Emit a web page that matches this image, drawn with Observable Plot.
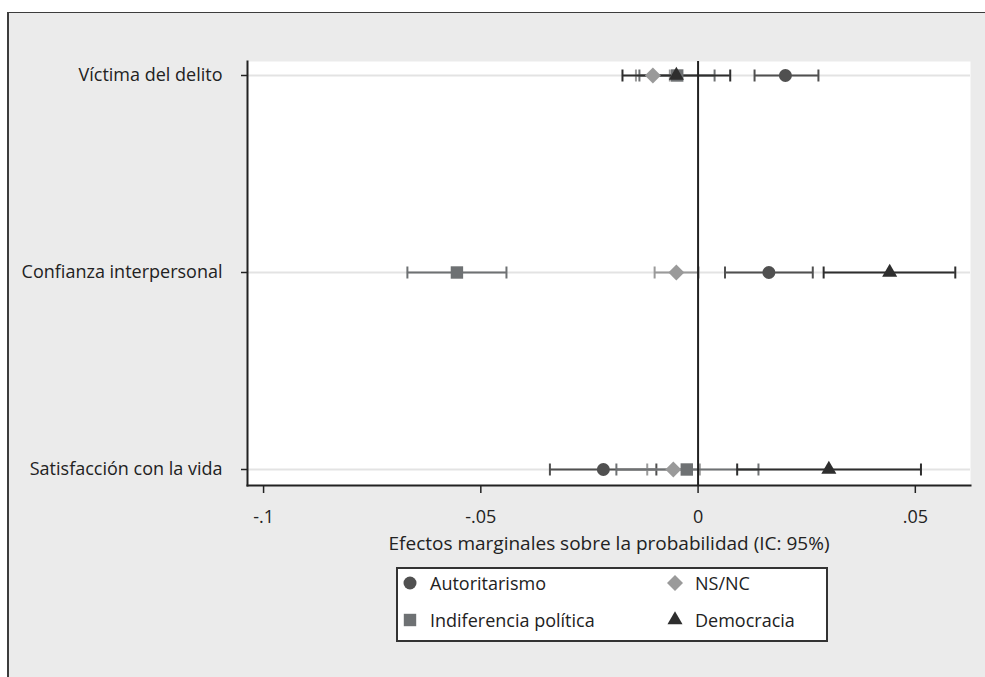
<!DOCTYPE html>
<html><head><meta charset="utf-8">
<script src="https://cdn.jsdelivr.net/npm/d3@7"></script>
<script src="https://cdn.jsdelivr.net/npm/@observablehq/plot@0.6"></script>
<style>
body{margin:0;background:#fff;font-family:"Open Sans",sans-serif;}
#page{position:relative;width:985px;height:677px;overflow:hidden;}
#bg{position:absolute;left:7px;top:12px;width:1100px;height:800px;background:#ebebeb;border-left:2px solid #3c3c3c;border-top:1px solid #3c3c3c;}
#chart{position:absolute;left:0;top:0;}
#legend{position:absolute;left:396px;top:567px;width:428px;height:71px;border:2px solid #333;background:#fff;}
.item{position:absolute;font-size:18px;color:#222;line-height:22px;white-space:nowrap;}
.mk{position:absolute;}
</style></head><body>
<div id="page"><div id="bg"></div><div id="chart"></div><div id="legend"></div></div>
<script>
// ---- data ----
const categories = ["Víctima del delito", "Confianza interpersonal", "Satisfacción con la vida"];
const seriesNames = ["Autoritarismo", "Indiferencia política", "NS/NC", "Democracia"];

const autoritarismoEst = [0.0201, 0.0163, -0.0218];
const autoritarismoLo  = [0.0130, 0.0062, -0.0341];
const autoritarismoHi  = [0.0277, 0.0264, -0.0096];

const indiferenciaEst = [-0.0048, -0.0555, -0.0026];
const indiferenciaLo  = [-0.0135, -0.0669, -0.0188];
const indiferenciaHi  = [0.0038, -0.0441, 0.0139];

const nsncEst = [-0.0104, -0.0050, -0.0057];
const nsncLo  = [-0.0143, -0.0100, -0.0117];
const nsncHi  = [-0.0065, 0.0001, 0.0004];

const democraciaEst = [-0.0050, 0.0441, 0.0301];
const democraciaLo  = [-0.0174, 0.0289, 0.0090];
const democraciaHi  = [0.0074, 0.0592, 0.0513];

const xTicks = [-0.1, -0.05, 0, 0.05];
const xTickLabels = ["-.1", "-.05", "0", ".05"];
const xLabel = "Efectos marginales sobre la probabilidad (IC: 95%)";

// ---- styling ----
const style = {
  "Autoritarismo":        {color: "#505050", symbol: "circle",   r: 6.5},
  "Indiferencia política":{color: "#6e7173", symbol: "square",   r: 7},
  "NS/NC":                {color: "#9a9a9a", symbol: "diamond2", r: 7.2},
  "Democracia":           {color: "#2e2e2e", symbol: "triangle", r: 5.6}
};
const seriesData = {
  "Autoritarismo": [autoritarismoEst, autoritarismoLo, autoritarismoHi],
  "Indiferencia política": [indiferenciaEst, indiferenciaLo, indiferenciaHi],
  "NS/NC": [nsncEst, nsncLo, nsncHi],
  "Democracia": [democraciaEst, democraciaLo, democraciaHi]
};
const drawOrder = ["Autoritarismo", "NS/NC", "Indiferencia política", "Democracia"];

function rows(name) {
  const [e, lo, hi] = seriesData[name];
  return categories.map((c, i) => ({series: name, cat: c, est: e[i], lo: lo[i], hi: hi[i]}));
}

const capSymbol = {
  draw(ctx, size) { const h = Math.sqrt(size / Math.PI); ctx.moveTo(0, -h); ctx.lineTo(0, h); }
};

const marks = [
  Plot.frame({fill: "white", stroke: null}),
  Plot.ruleY(categories, {y: d => d, stroke: "#e3e3e3", strokeWidth: 2})
];
for (const name of drawOrder) {
  const s = style[name], data = rows(name);
  marks.push(Plot.ruleY(data, {y: "cat", x1: "lo", x2: "hi", stroke: s.color, strokeWidth: 2}));
  marks.push(Plot.dot(data, {x: "lo", y: "cat", symbol: capSymbol, r: 6, fill: "none", stroke: s.color, strokeWidth: 2}));
  marks.push(Plot.dot(data, {x: "hi", y: "cat", symbol: capSymbol, r: 6, fill: "none", stroke: s.color, strokeWidth: 2}));
}
marks.push(Plot.ruleX([0], {stroke: "#222", strokeWidth: 2}));
for (const name of drawOrder) {
  const s = style[name], data = rows(name);
  marks.push(Plot.dot(data, {x: "est", y: "cat", symbol: s.symbol, r: s.r, fill: s.color, stroke: "none"}));
}
marks.push(
  Plot.axisX({ticks: xTicks, tickFormat: d => xTickLabels[xTicks.indexOf(d)], tickSize: 8, tickPadding: 17,
    fontSize: 18, label: null, color: "#222", strokeWidth: 1.5}),
  Plot.axisY({tickSize: 6, tickPadding: 19, fontSize: 18, label: null, color: "#222", strokeWidth: 1.5}),
  Plot.frame({anchor: "left", stroke: "#222", strokeWidth: 2}),
  Plot.frame({anchor: "bottom", stroke: "#222", strokeWidth: 2}),
  Plot.text([xLabel], {frameAnchor: "bottom", dy: 64, text: d => d, fontSize: 19, fill: "#222"})
);

const chart = Plot.plot({
  width: 985,
  height: 570,
  marginLeft: 247,
  marginRight: 15,
  marginTop: 61,
  marginBottom: 85,
  style: {background: "transparent", fontFamily: "Open Sans", fontSize: "18px", overflow: "visible"},
  x: {domain: [-0.1037, 0.0627]},
  y: {type: "point", domain: categories, padding: 0, insetTop: 14, insetBottom: 16},
  marks
});
document.getElementById("chart").appendChild(chart);

// ---- legend ----
const legend = document.getElementById("legend");
const legendPos = [
  {name: "Autoritarismo", mx: 12, my: 14},
  {name: "NS/NC", mx: 277, my: 14},
  {name: "Indiferencia política", mx: 12, my: 51},
  {name: "Democracia", mx: 277, my: 51}
];
const symMap = {circle: d3.symbolCircle, square: d3.symbolSquare, diamond2: d3.symbolDiamond2, triangle: d3.symbolTriangle};
for (const p of legendPos) {
  const s = style[p.name];
  const svg = d3.create("svg").attr("class", "mk").attr("width", 24).attr("height", 24)
    .style("left", (p.mx - 12) + "px").style("top", (p.my - 12) + "px");
  svg.append("path").attr("transform", "translate(12,12)")
    .attr("d", d3.symbol(symMap[s.symbol], s.r * s.r * Math.PI)())
    .attr("fill", s.color);
  legend.appendChild(svg.node());
  const t = document.createElement("div");
  t.className = "item";
  t.textContent = p.name;
  t.style.left = (p.mx + 20) + "px";
  t.style.top = (p.my - 11) + "px";
  legend.appendChild(t);
}
</script>
</body></html>
